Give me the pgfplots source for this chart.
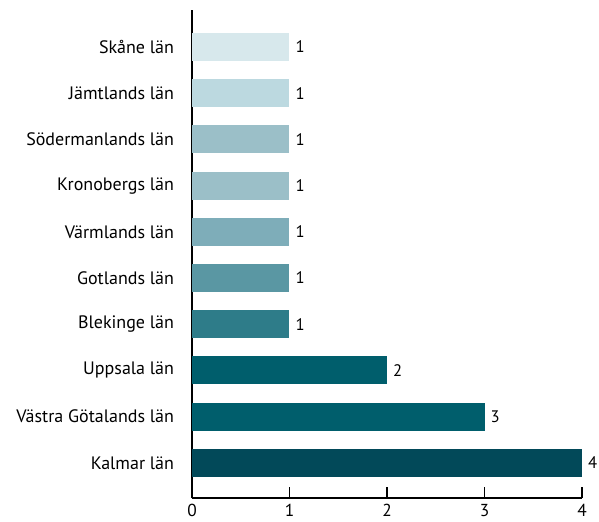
\documentclass[border=0pt]{standalone}
\usepackage{pgfplots}
\pgfplotsset{compat=1.18}
\usepackage{fontspec}
\setmainfont{PT Sans}
\definecolor{c0}{HTML}{024959}
\definecolor{c1}{HTML}{005E6C}
\definecolor{c2}{HTML}{005E6C}
\definecolor{c3}{HTML}{2E7C89}
\definecolor{c4}{HTML}{5A97A3}
\definecolor{c5}{HTML}{7EADB9}
\definecolor{c6}{HTML}{9BBFC8}
\definecolor{c7}{HTML}{9BBFC8}
\definecolor{c8}{HTML}{BCD9E0}
\definecolor{c9}{HTML}{D7E8EC}
\begin{document}
\begin{tikzpicture}
\begin{axis}[
  at={(0,0)}, anchor=south west,
  scale only axis, width=292.5pt, height=366pt,
  xbar, bar width=21pt, bar shift=0pt,
  xmin=0, xmax=4, ymin=-0.76, ymax=9.8,
  axis x line*=bottom, axis y line*=left,
  axis line style={line width=1pt, black},
  xtick={0,1,2,3,4},
  ytick={0,...,9},
  yticklabels={Kalmar län, Västra Götalands län, Uppsala län, Blekinge län, Gotlands län, Värmlands län, Kronobergs län, Södermanlands län, Jämtlands län, Skåne län},
  y tick style={draw=none},
  x tick style={line width=1pt, black},
  tick align=inside, major tick length=8pt,
  yticklabel style={font=\fontsize{13.5}{15}\selectfont, xshift=-10pt},
  xticklabel style={font=\fontsize{13}{15}\selectfont, yshift=-1pt},
  /pgf/number format/assume math mode=true,
  nodes near coords,
  nodes near coords style={font=\fontsize{12.5}{14}\selectfont, xshift=1pt},
  every axis plot/.append style={draw=none},
  clip=false,
]
\addplot[fill=c0] coordinates {(4,0)};
\addplot[fill=c1] coordinates {(3,1)};
\addplot[fill=c2] coordinates {(2,2)};
\addplot[fill=c3] coordinates {(1,3)};
\addplot[fill=c4] coordinates {(1,4)};
\addplot[fill=c5] coordinates {(1,5)};
\addplot[fill=c6] coordinates {(1,6)};
\addplot[fill=c7] coordinates {(1,7)};
\addplot[fill=c8] coordinates {(1,8)};
\addplot[fill=c9] coordinates {(1,9)};
\end{axis}
\pgfresetboundingbox
\path[use as bounding box] (-144pt,-17.25pt) rectangle (305.25pt,373.5pt);
\end{tikzpicture}
\end{document}
